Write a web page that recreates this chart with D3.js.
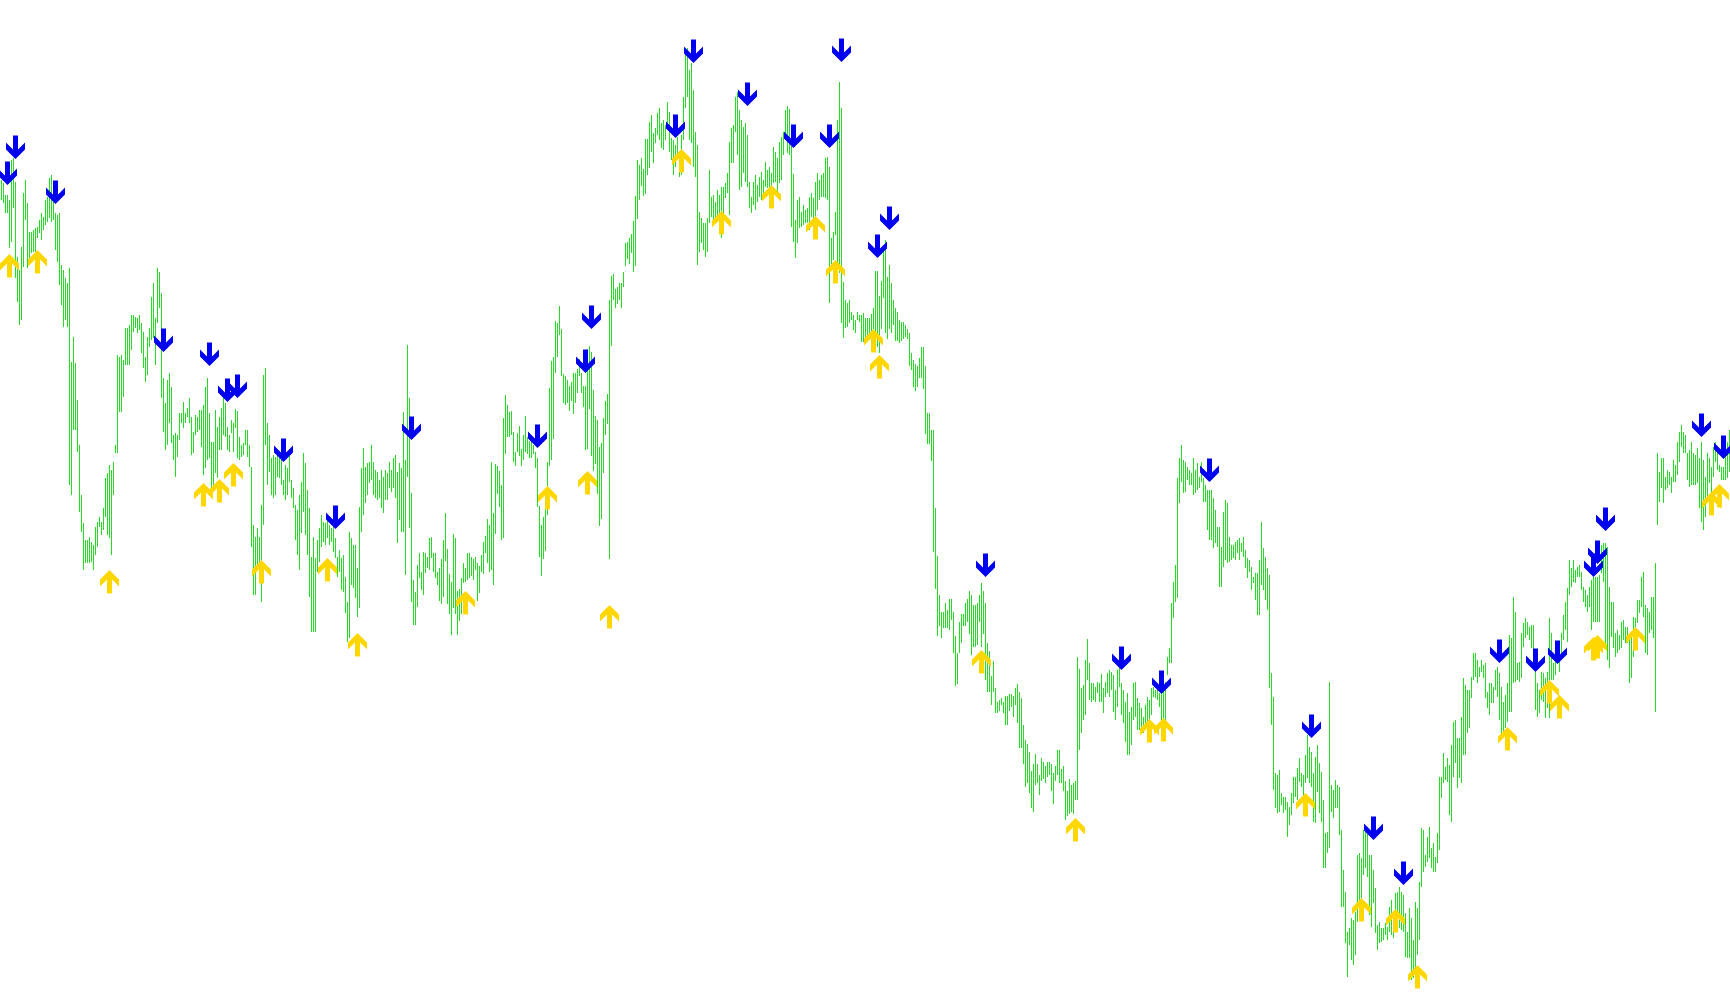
<!DOCTYPE html>
<html>
<head>
<meta charset="utf-8">
<script src="https://cdn.jsdelivr.net/npm/d3@7"></script>
<style>html,body{margin:0;padding:0;background:#fff;overflow:hidden}</style>
</head>
<body>
<script>
const barHigh = [
820,817,805,805,800,840,842,818,743,730,
753,807,820,797,768,768,770,772,773,780,
787,783,800,803,822,825,800,787,785,787,
735,730,722,717,732,638,663,637,600,555,
505,477,460,460,463,458,455,473,478,483,
478,492,522,527,535,530,538,555,645,643,
645,640,672,672,675,685,685,683,682,685,
677,668,643,663,672,703,717,682,732,728,
707,622,597,620,627,613,565,567,565,587,
587,598,587,592,602,583,568,585,583,590,
590,595,613,622,587,558,558,590,
573,583,592,603,597,573,565,580,577,591,
589,563,555,557,570,570,555,533,475,463,
472,463,495,625,632,577,565,542,545,543,
545,542,543,520,535,532,545,520,512,495,
490,505,518,547,537,510,492,443,463,442,
460,472,485,478,477,480,475,472,475,462,
443,450,442,445,423,398,468,462,455,455,
432,493,532,552,533,537,538,555,538,530,
528,520,530,523,530,527,538,530,542,545,
528,537,532,588,540,655,602,507,420,408,
435,447,428,448,447,443,462,463,
447,447,428,432,441,460,487,451,426,418,
466,462,409,411,422,437,432,447,447,443,
441,443,437,434,445,458,464,481,475,538,
487,536,534,529,515,582,605,595,588,589,
568,548,567,574,551,565,584,563,559,561,
555,548,542,494,475,483,500,538,612,639,
643,679,677,694,671,626,624,620,614,618,
627,627,631,641,627,614,614,633,654,648,
610,584,580,553,557,582,599,606,700,724,
726,711,713,717,717,728,757,758,762,766,
779,804,840,835,842,831,861,861,
878,885,867,872,887,892,877,880,875,898,
888,862,860,855,863,845,865,903,945,952,
930,937,910,868,855,788,782,777,777,782,
830,803,805,798,810,805,813,813,817,827,
858,872,875,903,908,890,880,873,877,865,
818,803,818,825,815,823,828,820,838,830,
833,827,853,848,842,858,863,868,890,894,
891,857,826,780,800,803,788,795,790,792,
803,807,802,818,827,820,825,827,842,843,
833,762,768,788,880,918,892,718,700,697,
700,688,685,680,688,685,685,687,
682,682,682,686,692,729,729,704,719,752,
760,723,735,717,700,692,688,680,678,678,
675,671,667,647,640,636,634,642,653,653,
634,587,587,570,570,492,444,405,388,388,
397,390,401,401,388,364,347,378,386,386,
397,401,409,405,395,395,397,405,417,409,
397,357,349,324,339,312,298,300,302,298,
304,304,306,306,304,312,316,308,302,275,
260,256,248,229,236,246,236,225,242,238,
234,238,238,236,227,234,250,250,231,234,
219,209,221,215,217,219,343,331,
312,315,340,361,337,317,317,313,318,317,
326,312,318,327,330,328,325,310,330,333,
317,310,298,307,288,293,317,318,302,297,
292,283,295,303,300,312,313,310,312,307,
312,318,318,343,352,397,418,435,522,542,
555,540,538,533,530,527,542,530,537,523,
538,522,515,510,510,510,502,490,473,473,
453,488,500,497,463,455,455,458,460,462,
457,463,450,442,440,433,423,427,427,440,
478,452,443,432,425,327,303,227,225,230,
207,203,203,198,193,207,223,223,
232,242,227,225,245,265,253,248,227,243,
255,237,228,200,167,168,318,215,210,220,
215,213,170,130,108,68,72,82,80,88,
145,147,142,170,168,173,145,145,130,112,
75,78,72,72,77,73,93,100,88,107,
108,113,108,105,87,68,92,82,60,98,
92,118,172,170,145,163,173,152,157,143,
167,223,223,247,233,242,235,255,278,280,
262,262,283,322,315,310,310,323,347,347,
340,333,340,335,337,308,317,317,313,330,
333,327,313,298,305,317,365,362,
403,388,337,338,367,377,382,378,373,375,
375,328,317,310,328,327,322,328,382,367,
337,342,348,347,367,385,398,412,440,432,
440,430,433,435,428,413,410,405,413,420,
423,423,423,425,455,457,457,453,413,398,
398,367,370,365,378,380,373,373,363,363,
383,382,400,400,423,428,395,392,388,403,
403,437,547,528,542,542,523,530,528,523,
540,535,558,568,575,568,565,547,550,558,
547,545,552,542,558,540,523,547,542,533,
553,558,550,535,533,533,545,558,570
];
const barLow = [
800,797,787,787,752,758,792,722,698,675,
680,733,780,732,735,747,748,748,762,767,
760,770,775,778,782,778,780,750,738,715,
695,673,680,673,515,505,570,570,548,488,
468,430,437,437,437,438,430,445,453,473,
465,470,483,465,462,445,505,547,547,588,
588,603,635,635,635,650,668,672,667,670,
647,632,618,625,653,660,662,635,677,692,
602,568,550,555,577,557,540,523,543,560,
577,572,577,583,577,545,547,565,568,570,
553,525,532,540,542,512,515,527,
522,550,550,565,563,550,548,567,548,572,
542,540,543,545,555,543,533,453,405,405,
435,417,398,475,555,515,528,505,502,505,
523,522,515,505,500,505,518,502,492,460,
445,430,467,488,465,445,403,368,368,368,
428,438,453,458,455,462,455,458,448,442,
423,428,410,408,387,358,362,415,412,402,
383,392,468,485,497,505,517,520,505,502,
500,502,492,487,500,500,512,508,512,502,
457,480,468,468,425,523,472,398,375,375,
393,422,410,405,427,432,430,442,
428,422,415,399,396,403,439,396,386,365,
392,386,365,379,386,417,418,420,422,424,
420,430,399,407,428,426,447,437,428,430,
415,466,506,493,460,462,546,563,563,565,
538,534,548,544,534,540,548,546,542,542,
546,532,493,443,424,441,449,485,534,540,
561,627,643,665,624,597,595,597,589,599,
586,597,607,624,607,593,550,551,591,544,
529,536,506,474,481,527,565,576,441,654,
700,692,696,700,692,713,734,741,736,747,
728,734,781,800,814,804,806,825,
832,848,837,857,865,860,852,850,860,873,
848,840,825,833,843,823,825,860,892,903,
860,857,833,823,735,748,757,750,743,748,
777,783,775,780,783,770,762,783,802,807,
785,837,837,868,845,810,813,827,818,813,
792,787,795,790,798,803,800,803,813,812,
807,813,817,818,803,817,820,845,860,847,
845,773,758,742,757,772,773,775,777,777,
770,783,773,783,790,800,803,803,802,800,
697,733,740,765,720,727,677,662,672,673,
677,680,670,667,680,678,658,658,
661,663,665,669,671,661,653,647,671,702,
667,661,671,667,675,659,659,657,659,661,
663,661,634,630,613,609,613,622,622,611,
566,556,556,539,448,411,364,374,362,372,
372,372,370,380,347,314,316,347,357,374,
374,378,366,345,353,353,355,378,353,366,
320,308,308,295,308,287,287,289,295,287,
275,275,289,293,283,295,277,252,252,236,
213,217,207,192,188,215,217,205,219,221,
217,223,225,209,196,219,225,217,217,209,
180,184,186,188,186,200,200,250,
267,280,285,320,300,298,300,298,307,298,
298,287,303,307,303,310,288,280,293,313,
285,277,258,245,245,255,280,283,270,270,
273,267,272,277,272,285,303,302,300,293,
278,278,272,325,337,337,382,398,402,497,
518,507,508,520,515,515,505,507,510,512,
518,498,498,470,460,460,452,457,453,413,
413,433,440,437,438,440,442,440,447,440,
448,443,432,422,428,410,417,400,385,385,
415,410,400,390,312,275,210,192,187,188,
195,187,190,163,175,185,197,203,
200,218,213,202,217,222,217,213,178,177,
208,187,178,132,132,147,152,188,182,192,
192,165,93,93,57,23,55,40,35,45,
78,87,87,125,132,123,85,73,97,67,
50,57,58,60,65,60,68,65,62,72,
80,72,70,68,43,42,42,20,22,17,
45,60,113,128,133,138,142,132,128,128,
137,150,202,217,220,218,185,178,223,237,
212,222,217,245,245,267,272,302,320,323,
317,323,328,322,302,292,285,297,297,310,
303,280,262,267,272,278,288,288,
317,318,320,318,322,353,362,365,360,352,
333,290,283,287,300,298,282,292,282,320,
320,325,337,328,343,360,370,358,405,413,
418,417,423,423,410,398,393,388,393,370,
378,378,378,378,427,418,352,340,332,363,
352,343,347,350,352,360,357,357,317,322,
343,352,377,387,393,383,347,345,367,370,
362,288,475,498,512,497,510,512,515,507,
518,518,525,538,553,547,547,520,513,515,
515,515,517,492,478,470,483,500,517,503,
523,538,530,528,520,520,520,522,528
];

// sell signals (blue, pointing down): bar index and level of the arrow tip
const downArrowBars = [7,3,27,81,104,113,118,141,167,205,268,292,295,337,346,373,396,414,420,438,444,492,560,580,604,655,686,701,749,767,778,796,798,802,850,861];
const downArrowValues = [841,815,796,648,634,598,602,538,471,560,552,627,671,862,937,894,852,852,938,742,770,423,330,306,518,262,160,115,337,328,336,423,436,469,563,541];

// buy signals (gold, pointing up): bar index and level of the arrow tip
const upArrowBars = [4,18,54,101,109,116,130,163,178,232,273,293,304,340,360,385,407,417,436,439,490,537,574,581,652,680,697,708,753,774,779,796,798,817,855,859];
const upArrowValues = [746,750,430,517,521,537,440,442,367,409,514,529,395,851,789,815,784,740,671,645,350,182,281,282,207,102,91,35,273,320,305,363,365,373,508,516];

const W = 1730, H = 1005;
const svg = d3.select("body").append("svg")
  .attr("width", W).attr("height", H)
  .style("display", "block").style("background", "#ffffff");

const n = barHigh.length;
const x = d3.scaleLinear().domain([0, n - 1]).range([1, 2 * (n - 1) + 1]);
const y = d3.scaleLinear().domain([0, 1000]).range([1000, 0]);

svg.append("g").attr("shape-rendering", "crispEdges")
  .selectAll("rect").data(d3.range(n)).join("rect")
  .attr("x", i => x(i))
  .attr("width", 1)
  .attr("y", i => y(barHigh[i]))
  .attr("height", i => Math.max(1, y(barLow[i]) - y(barHigh[i])))
  .attr("fill", "#22dd22");

// arrow: 5px shaft with a thick chevron head, 19px wide, 23.5px long
const downShape = "M-2.5,-23.5L2.5,-23.5L2.5,-9.5L9.5,-16.5L9.5,-9.5L0,0L-9.5,-9.5L-9.5,-16.5L-2.5,-9.5Z";
const upShape = "M-2.5,23.5L2.5,23.5L2.5,9.5L9.5,16.5L9.5,9.5L0,0L-9.5,9.5L-9.5,16.5L-2.5,9.5Z";

svg.append("g").selectAll("path").data(d3.range(upArrowBars.length)).join("path")
  .attr("d", upShape)
  .attr("transform", k => `translate(${x(upArrowBars[k]) + 0.5},${y(upArrowValues[k])})`)
  .attr("fill", "#ffd700");

svg.append("g").selectAll("path").data(d3.range(downArrowBars.length)).join("path")
  .attr("d", downShape)
  .attr("transform", k => `translate(${x(downArrowBars[k]) + 0.5},${y(downArrowValues[k])})`)
  .attr("fill", "#0000f0");
</script>
</body>
</html>
